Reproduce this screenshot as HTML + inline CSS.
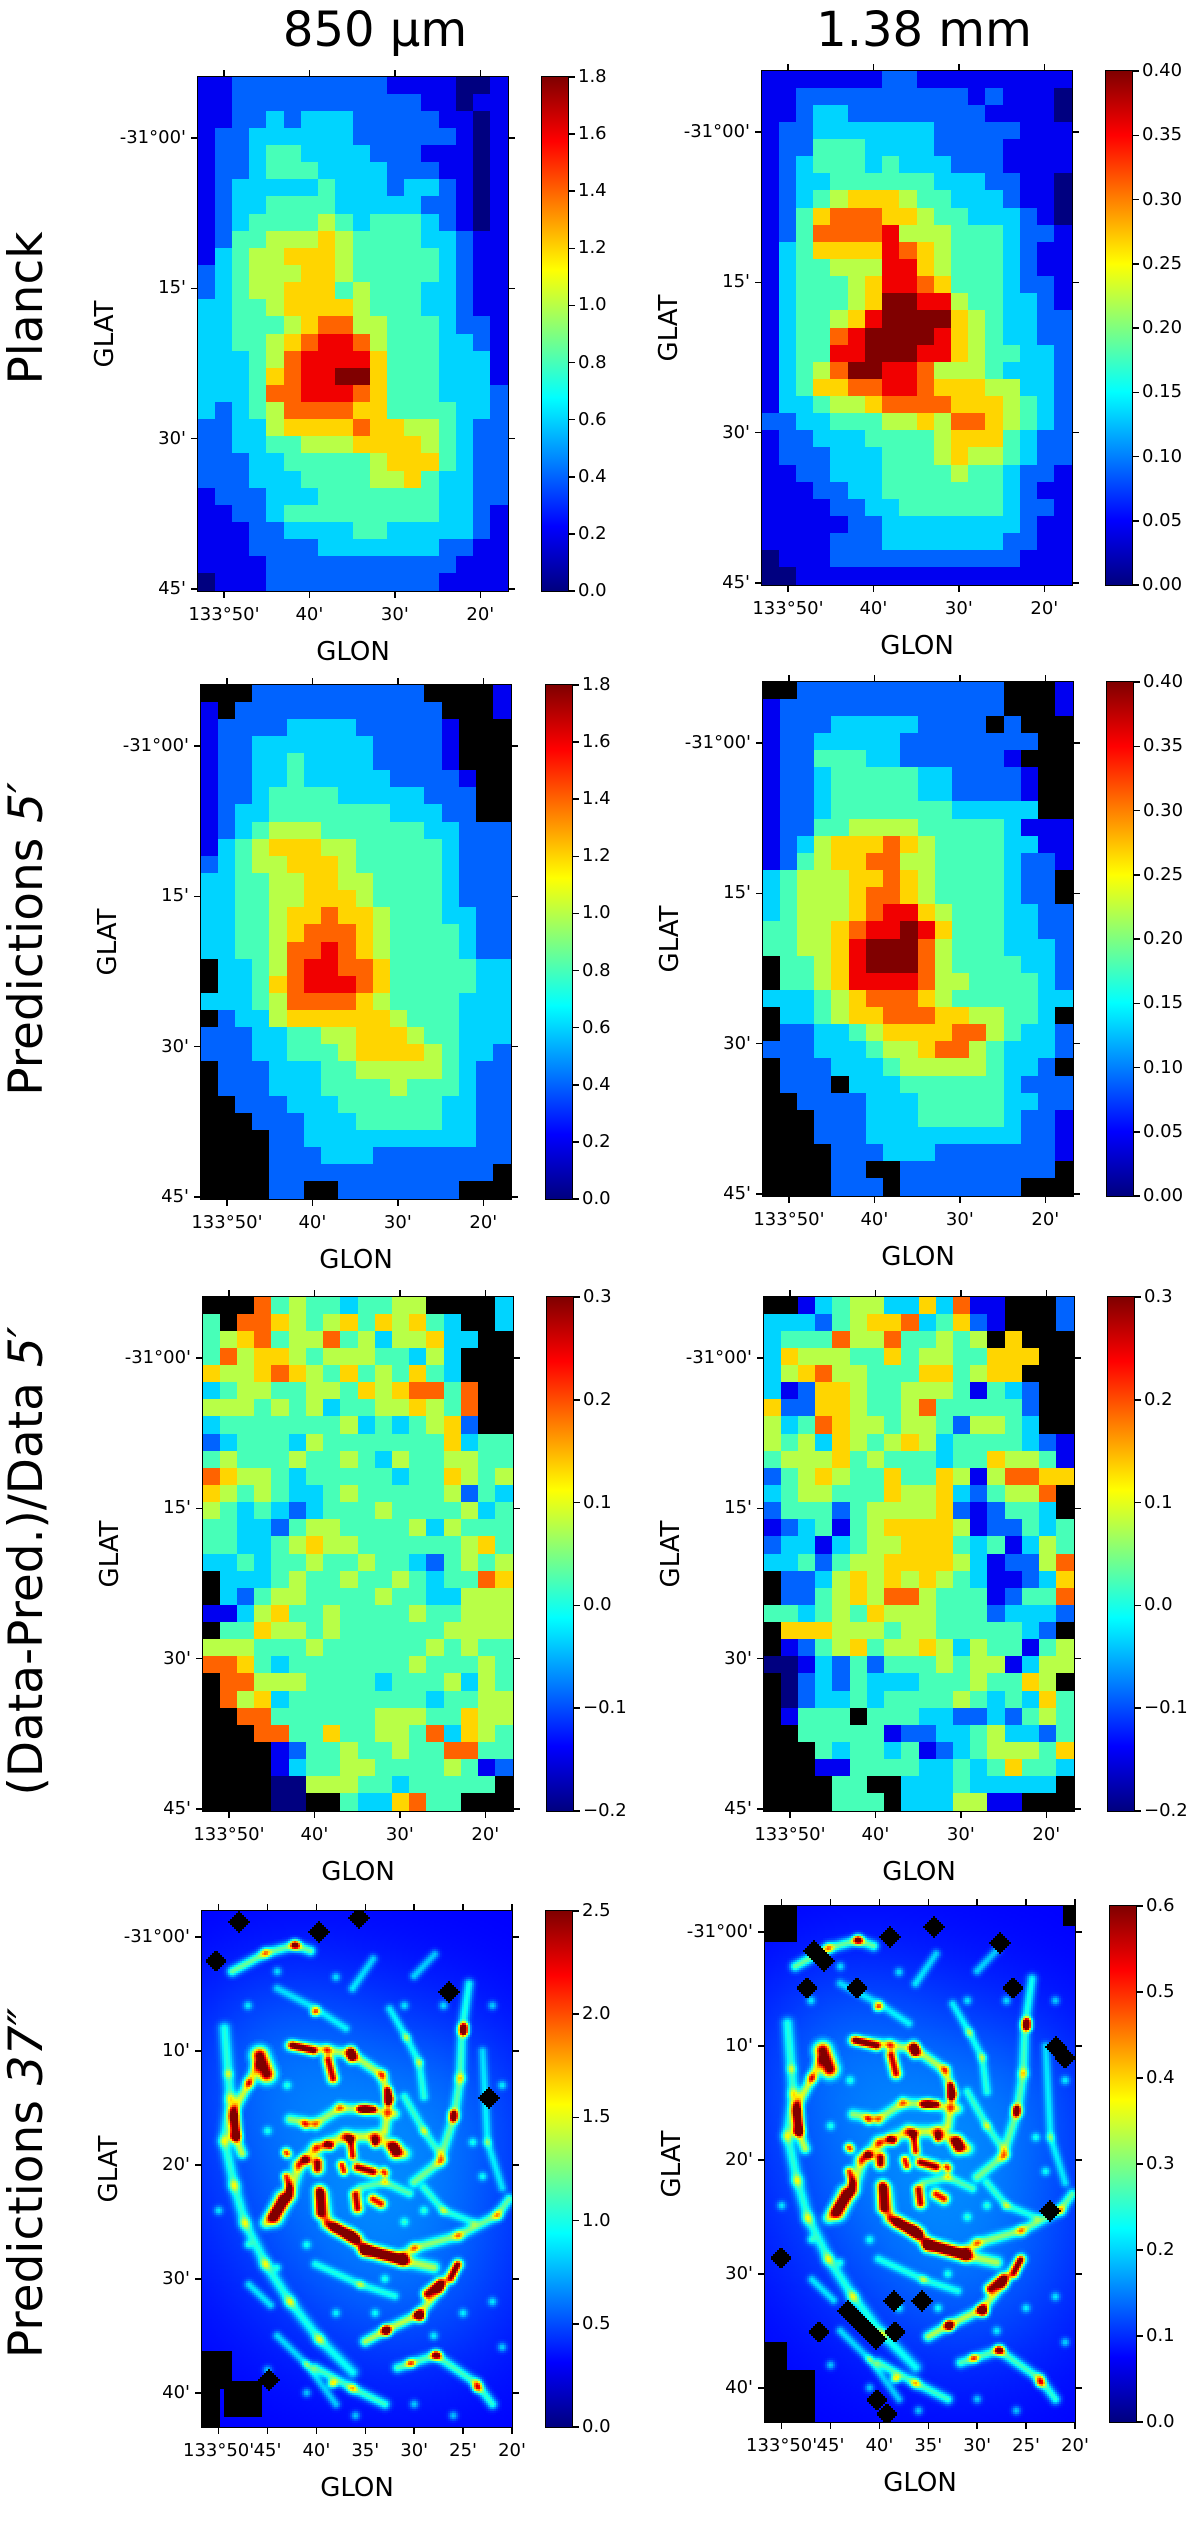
<!DOCTYPE html>
<html><head><meta charset="utf-8">
<style>
body{margin:0;background:#fff;width:1200px;height:2502px;position:relative;overflow:hidden;font-family:"DejaVu Sans","Liberation Sans",sans-serif;color:#000}
.abs{position:absolute}
.frame{position:absolute;border:1.5px solid #000;box-sizing:border-box;pointer-events:none}
.tk{position:absolute;background:#000}
.lbl{position:absolute;font-size:18px;white-space:nowrap;line-height:18px}
.ax{position:absolute;font-size:26px;white-space:nowrap;line-height:30px;text-align:center}
.rt{position:absolute;font-size:47px;white-space:nowrap;line-height:56px;text-align:center;width:700px;height:56px;transform:rotate(-90deg)}
canvas{position:absolute;image-rendering:pixelated}
</style></head>
<body>
<div class="abs" style="left:255px;top:6px;width:240px;text-align:center;font-size:48px;line-height:48px">850 μm</div>
<div class="abs" style="left:794px;top:6px;width:260px;text-align:center;font-size:48px;line-height:48px">1.38 mm</div>
<div class="rt" style="left:-323px;top:280px">Planck</div>
<div class="rt" style="left:-323px;top:911px">Predictions <i>5′</i></div>
<div class="rt" style="left:-323px;top:1533px">(Data-Pred.)/Data <i>5′</i></div>
<div class="rt" style="left:-323px;top:2155px">Predictions <i>37″</i></div>
<div id="root"></div>
<script>
// ---------- DATA ----------
const planck850Rows = [
"112222222221111001","112222222222211011","112232333222221101","122333333222222101",
"122344333322211101","122344433332221101","123333343332332101","123344443333322101",
"123444454344432101","124455565444433211","134556665444443211","234555665444443211",
"234556664544433211","334456666544433211","334445677554443221","334456788754443321",
"333457888864443331","333467889964443331","333477888764443332","323457777664444332",
"223356666766554322","223344555666654322","222334444456664322","222333444455643322",
"122233344444443322","112234444444443321","111223333443333321","111222233333332211",
"111122222222222111","011122222222221111"];
const planck138Rows = [
"111111122111111111","112222222222121110","112332222222211110","122333333322222111",
"122444333322221111","123444343332221111","123344444433322110","123456665443332110",
"124677766544333210","124777785554443221","134666687654443211","134455588654443211",
"134445688764443221","134445699885443321","134456899996543322","134478999986543322",
"134488999886544332","134579988755543332","134667788766655332","133455677776665432",
"223344455657765432","122333444456664322","122233344456554322","112233344445443221",
"111223344444443211","111122334444443221","111112233333333211","111122233333332211",
"011122222222222111","001111111111111111"];
const pred850Rows = [
"xxx2222222222xxxx1","1x222222222222xxx1","122223333222221xxx","122333333322221xxx",
"122334333322221xxx","1223343333322221xx","1223444433333222xx","1233444444433322xx",
"123455544444433222","134566655444443222","234556665444443222","334455665544443222",
"334455666544443222","334456676654443322","334456777654444322","334457787654444322",
"x33457887764444433","x33467888764444433","333457777654444333","x23356666665444333",
"222334455666544333","222334445666654332","x22233344555554322","x22233344445444322",
"xx2223334444443322","xxx222333444443322","xxxx22333333333322","xxxx22233322222222",
"xxxx2222222222222x","xxxx22xx2222222xxx"];
const pred138Rows = [
"xx222222222222xxx1","12222222222222xxx1","1222333332222x2xxx","1223333322222222xx",
"122444332222221xxx","1223444443322221xx","1223444443322221xx","1223444444433333xx",
"122445555444443111","123566676544443311","124566775544443221","34555667654444322x",
"34555677654444322x","345556788654443322","445567889864443322","445568999754443332",
"x44568999754444332","x44568888755444432","333456777654444433","x3345667776655443x",
"x22334566667754332","222333455677543332","x2223334555554332x","x222x3334444443222",
"xx2222333444443322","xxx222333444443221","xxx222333333333221","xxxx22233322222221",
"xxxx22xx222222222x","xxxx222x2222222xxx"];
const resid850Rows = [
"xxx7454434455xxxx3","4x7765456465643xx3","4567455745355633xx","475665455544353xxx",
"655676546454643xxx","3455445546567747xx","5554545344556547xx","3444444453434562xx",
"234443544444446344","454445445435445544","765543444443446545","654543345444445243",
"543432344454444534","443324554444535444","443345655444444564","334344544544324545",
"x33345445445434476","x32455444454433555","113564454444544555","x44655454444445555",
"555444544444454544","776434444444544454","x77555444434445354","x75634444444434455",
"xx7744444455544655","xxx774464455473654","xxxx12445445447744","xxxx13445544445412",
"xxxx0055544344444x","xxxx00xx4336744xxx"];
const resid138Rows = [
"xx134553363711xxx2","33324566734621xxx2","3444755744545x6xxx","3655544645544666xx",
"356755444664566xxx","3126654455541432xx","6226654457444442xx","5347655455425543xx",
"545365456534444321","455564544434465541","245654464465157766","34554446556324557x",
"24442455556212443x","123414566665122434","233134556664341354","334245566665312257",
"x22356565654311236","x22456577544412447","443454655544423332","x6665554554444432x",
"x12456455653544145","001324244454551355","x0232433344454465x","x02334344445434364",
"x1444x444332232454","xx4444412233453324","xxx434434123455546","xxx114444334346443",
"xxxx44xx333433333x","xxxx444x3335511xxx"];

// 37" prediction features (850 µm units); 1.38 mm map uses ratio below
const ratio138 = 0.24;
const bgBase = 0.3;
const bgLon = [36, 30, 44, 26];
const bgLat = [20, 30, 10, 14];
const bgAmp = [0.28, 0.12, 0.12, 0.08];
const bgSig = [11, 8, 7, 6];
const filamentPaths = [
 [[48.6,3.0],[45.2,1.4],[42.2,0.7],[40.6,1.2]],
 [[49.4,8],[48.8,14.2],[49.4,17.9],[48.4,21.8],[47.3,25.1],[45.2,28.7],[42.7,32],[39.7,35.3],[36.3,38.2]],
 [[46.1,11.3],[46.9,12.8],[48.4,15.2],[48.3,17.5],[47.6,19]],
 [[42.7,9.5],[38.9,9.9],[36.3,10.3],[33.3,12.1],[32.5,14.2],[33,17]],
 [[24.4,4.1],[25.1,8.1],[25.3,12.4],[25.9,15.7],[27.4,19.7],[30,21.5]],
 [[31,27.8],[30,27.3],[25.5,26.2],[21.5,24.4],[20.3,23]],
 [[25.5,28.7],[27.4,30.9],[29.5,33.1],[32.9,34.5],[35,35.5]],
 [[31.7,37.8],[27.8,36.7],[23.6,39.2],[22,41]],
 [[40.1,37.8],[36.3,39.6],[33,41]],
 [[42.7,16],[40.1,16.4],[37.6,15],[35,15.1],[32,15.5]],
 [[45.2,25.1],[42.7,22.6],[41.8,20],[40,18.5],[37,17.5],[34,17.5],[31,19]],
 [[39.3,22.6],[38.9,25.1],[36.5,26.2],[35,27.5],[31,28.4],[28,29]],
 [[46.9,30.5],[44.7,32.3]],
 [[40.1,28.7],[35.5,30.5],[32,31.5]],
 [[32.5,6.3],[30.8,8.8],[29.5,11],[29,14]],
 [[36.3,4.5],[34.2,1.9]],
 [[30,3.4],[27.9,1.5]],
 [[23,10],[22.5,18],[21,22]],
 [[44,4.5],[40,6.3],[37,8]],
 [[29,22],[27,24],[24,25]],
 [[44,35],[41,37.5],[38,41]],
 [[31,14],[29,17],[27,19.5]],
 [[35.5,22],[33,21.5],[30.5,22.5]]
];
const filamentAmps = [0.8,0.55,0.9,0.8,0.6,0.7,0.9,0.7,0.7,0.7,0.8,0.8,0.45,0.45,0.45,0.45,0.45,0.4,0.4,0.45,0.45,0.45,0.5];
const filamentWidths = [0.35,0.4,0.35,0.35,0.35,0.35,0.35,0.35,0.35,0.35,0.4,0.4,0.3,0.3,0.3,0.3,0.3,0.3,0.3,0.3,0.3,0.3,0.3];
const clumps = [
 [45.8,10.4,45.1,12.0,2.2,.55],[48.4,15.8,48.2,17.4,1.8,.35],[42.4,9.5,40.3,10.0,1.6,.3],
 [38.8,10.8,38.3,12.4,1.8,.35],[36.5,10.0,36.4,10.6,1.6,.35],[35.5,15.1,34.2,15.1,1.6,.28],
 [32.7,13.5,32.7,14.4,1.6,.28],[38.9,18.2,38.6,18.3,1.6,.3],[36.5,17.8,36.3,19.2,1.7,.3],
 [34.0,18.0,34.0,18.1,1.6,.3],[32.1,18.4,31.9,18.9,2.0,.42],[39.9,19.8,39.9,20.3,2.0,.38],
 [37.4,20.0,37.2,20.5,1.6,.3],[35.8,20.2,34.2,20.6,1.9,.35],[33.1,20.6,33.0,20.7,1.5,.3],
 [43.1,18.9,43.0,19.0,1.5,.3],[41.2,19.5,41.0,19.6,1.5,.3],[43.1,21.0,42.8,22.0,1.5,.3],
 [43.4,23.0,44.3,24.6,2.0,.5],[39.7,22.3,39.6,24.2,2.0,.38],[36.0,22.6,35.8,23.8,1.8,.35],
 [34.2,23.0,33.4,23.4,1.6,.35],[38.1,25.5,36.0,26.5,2.0,.4],[35.0,27.4,31.3,28.3,2.2,.4],
 [28.7,31.3,27.4,30.4,1.9,.35],[26.2,30.0,25.6,28.8,1.3,.3],[29.5,33.2,29.4,33.3,1.7,.35],
 [32.9,34.5,32.8,34.6,1.4,.3],[24.9,7.9,24.9,8.3,1.9,.3],[26.0,15.5,26.0,15.9,1.4,.3],
 [42.2,0.7,42.1,0.7,1.0,.3],[30.4,37.4,30.3,37.4,1.0,.3],[27.8,36.7,27.6,36.7,1.2,.3],
 [23.6,39.6,23.5,39.6,1.0,.3],[38.4,39.2,38.3,39.2,1.0,.3],[40.2,6.6,40.1,6.6,1.1,.28],
 [41.2,16.4,41.1,16.5,1.0,.3]
];
const dotLon = [47,44,38,31,27,22,21,23,45,47,44,41,33,38,34,28,25,22,21,45,41,36,30,26,50,49,43,29,31,24];
const dotLat = [6,3,3.5,6,6,6,13,21,17,27,29,27,30,33,33,35,33,32,36,38,40,42,41,42,24,12,13,24,25,18];
const maskDiamondsL = [[39.7,-0.4],[35.7,-1.7],[50.3,2.1],[26.4,4.8],[22.3,14.1],[44.8,38.9],[47.9,-1.3]];
const maskRectsL = [[51.7,36.3,48.6,39.6],[49.4,38.9,45.6,42.1],[51.7,39.6,49.8,43]];
const maskDiamondsR = [[46.7,1.6],[45.7,2.5],[38.9,0.4],[34.4,-0.4],[27.7,0.9],[47.5,4.9],[42.2,4.9],[26.4,4.9],[21.9,10.1],[21.0,11],[22.5,24.5],[50,28.6],[38.5,32.4],[35.7,32.4],[46.1,35.1],[43.2,33.2],[42.3,34.0],[41.3,34.9],[40.4,35.7],[38.5,35.1],[40.2,41.1],[39.3,42.3]];
const maskRectsR = [[51.7,-2.3,48.5,0.8],[21.3,-2.3,20,-0.5],[51.7,38.5,46.5,43],[51.7,36,49.5,38.5]];

const gridXTicks = [[50,"133°50'"],[40,"40'"],[30,"30'"],[20,"20'"]];
const gridYTicks = [[0,"-31°00'"],[15,"15'"],[30,"30'"],[45,"45'"]];
const fineXTicks = [[50,"133°50'"],[45,"45'"],[40,"40'"],[35,"35'"],[30,"30'"],[25,"25'"],[20,"20'"]];
const fineYTicks = [[0,"-31°00'"],[10,"10'"],[20,"20'"],[30,"30'"],[40,"40'"]];
const cb850 = ["0.0","0.2","0.4","0.6","0.8","1.0","1.2","1.4","1.6","1.8"];
const cb138 = ["0.00","0.05","0.10","0.15","0.20","0.25","0.30","0.35","0.40"];
const cbRes = ["−0.2","−0.1","0.0","0.1","0.2","0.3"];
const cb37a = ["0.0","0.5","1.0","1.5","2.0","2.5"];
const cb37b = ["0.0","0.1","0.2","0.3","0.4","0.5","0.6"];

// ---------- RENDER ----------
function clamp(v){return v<0?0:v>1?1:v;}
function jet(t){
  t=clamp(t);
  const r=clamp(Math.min(4*t-1.5,-4*t+4.5)), g=clamp(Math.min(4*t-0.5,-4*t+3.5)), b=clamp(Math.min(4*t+0.5,-4*t+2.5));
  return [Math.round(r*255),Math.round(g*255),Math.round(b*255)];
}
const root=document.getElementById('root');
function el(cls,style,text){const d=document.createElement('div');if(cls)d.className=cls;d.style.cssText=style;if(text!==undefined)d.textContent=text;root.appendChild(d);return d;}

function panel(p){
  const xOf=lon=>(p.lonL-lon)/(p.lonL-p.lonR)*p.w;
  const yOf=lat=>(lat-p.latT)/(p.latB-p.latT)*p.h;
  const cv=document.createElement('canvas');
  
  
  cv.style.left=p.x+'px';cv.style.top=p.y+'px';cv.style.width=p.w+'px';cv.style.height=p.h+'px';
  root.appendChild(cv);
  if(p.rows){
    cv.width=p.w;cv.height=p.h;
    const ctx=cv.getContext('2d');
    const nC=18,nR=p.rows.length;
    const lonStep=(p.lonL-p.lonR)/nC, latStep=(p.latB-p.latT)/nR;
    for(let r=0;r<nR;r++){
      let s=(p.rows[r]+"444444444444444444").slice(0,nC);
      for(let c=0;c<nC;c++){
        const ch=s[c];
        const lon0=p.lonL-c*lonStep, lat0=p.latT+r*latStep;
        const x0=Math.floor(xOf(lon0)), x1=Math.ceil(xOf(lon0-lonStep));
        const y0=Math.floor(yOf(lat0)), y1=Math.ceil(yOf(lat0+latStep));
        if(ch==='x'){ctx.fillStyle='#000';}
        else{
          const v=p.vmin+(+ch)/9*(p.vmax-p.vmin);
          const col=jet((v-p.vmin)/(p.vmax-p.vmin));
          ctx.fillStyle='rgb('+col+')';
        }
        ctx.fillRect(x0,y0,x1-x0,y1-y0);
      }
    }
  } else {
    const S=2, W=Math.ceil(p.w/S), H=Math.ceil(p.h/S);
    cv.width=W;cv.height=H;
    const ctx=cv.getContext('2d');
    const img=ctx.createImageData(W,H);
    const segs=[];
    filamentPaths.forEach((path,i)=>{for(let k=0;k<path.length-1;k++)segs.push([path[k][0],path[k][1],path[k+1][0],path[k+1][1],filamentAmps[i],filamentWidths[i]]);});
    clumps.forEach(c=>segs.push(c));
    dotLon.forEach((l,i)=>segs.push([l,dotLat[i],l,dotLat[i],0.45,0.3]));
    const S2=segs.map(s=>[xOf(s[0]),yOf(s[1]),xOf(s[2]),yOf(s[3]),s[4],s[5]*10]);
    const bgs=bgLon.map((l,i)=>[xOf(l),yOf(bgLat[i]),bgAmp[i],bgSig[i]*10.5]);
    const dm=(p.maskD||[]).map(d=>[xOf(d[0]),yOf(d[1])]);
    const rm=(p.maskR||[]).map(r=>[xOf(r[0]),yOf(r[1]),xOf(r[2]),yOf(r[3])]);
    for(let j=0;j<H;j++)for(let i=0;i<W;i++){
      const X=i*S+1,Y=j*S+1;
      let masked=false;
      for(const d of dm){if(Math.abs(X-d[0])+Math.abs(Y-d[1])<11){masked=true;break;}}
      if(!masked)for(const r of rm){if(X>=r[0]&&X<=r[2]&&Y>=r[1]&&Y<=r[3]){masked=true;break;}}
      const o=(j*W+i)*4;
      if(masked){img.data[o]=0;img.data[o+1]=0;img.data[o+2]=0;img.data[o+3]=255;continue;}
      let v=bgBase;
      for(const b of bgs){const dx=X-b[0],dy=Y-b[1];v+=b[2]*Math.exp(-(dx*dx+dy*dy)/(2*b[3]*b[3]));}
      for(const s of S2){
        const vx=s[2]-s[0],vy=s[3]-s[1];const L=vx*vx+vy*vy;
        let t=L>0?((X-s[0])*vx+(Y-s[1])*vy)/L:0;t=t<0?0:t>1?1:t;
        const dx=X-(s[0]+t*vx),dy=Y-(s[1]+t*vy);const d2=dx*dx+dy*dy;
        if(d2<9*s[5]*s[5])v+=s[4]*Math.exp(-d2/(2*s[5]*s[5]));
      }
      v*=p.scale;
      const col=jet((v-p.vmin)/(p.vmax-p.vmin));
      img.data[o]=col[0];img.data[o+1]=col[1];img.data[o+2]=col[2];img.data[o+3]=255;
    }
    ctx.putImageData(img,0,0);
  }
  const fr=el('frame','left:'+(p.x-1)+'px;top:'+(p.y-1)+'px;width:'+(p.w+2)+'px;height:'+(p.h+2)+'px');
  
  
  p.xt.forEach(t=>{
    const xx=p.x+xOf(t[0]);
    const a=el('tk','left:'+(xx-0.75)+'px;top:'+(p.y-7)+'px;width:1.5px;height:7px');
    
    
    const b=el('tk','left:'+(xx-0.75)+'px;top:'+(p.y+p.h)+'px;width:1.5px;height:7px');
    
    
    const l=el('lbl','left:'+(xx-70)+'px;top:'+(p.y+p.h+15)+'px;width:140px;text-align:center',t[1]);
    
    
  });
  p.yt.forEach(t=>{
    const yy=p.y+yOf(t[0]);
    const a=el('tk','left:'+(p.x-7)+'px;top:'+(yy-0.75)+'px;width:7px;height:1.5px');
    
    
    const b=el('tk','left:'+(p.x+p.w)+'px;top:'+(yy-0.75)+'px;width:7px;height:1.5px');
    
    
    const l=el('lbl','left:'+(p.x-132)+'px;top:'+(yy-9)+'px;width:120px;text-align:right',t[1]);
    
    
  });
  const gx=el('ax','left:'+(p.x+p.w/2-60)+'px;top:'+(p.y+p.h+46)+'px;width:120px','GLON');
  
  
  const gy=el('ax','left:'+(p.x-93-60)+'px;top:'+(p.y+p.h/2-15)+'px;width:120px;transform:rotate(-90deg)','GLAT');
  
  
  const cb=el('frame','left:'+p.cbx+'px;top:'+(p.y-1)+'px;width:28px;height:'+(p.h+2)+'px;background:linear-gradient(to top,#00007f 0%,#0000ff 12.5%,#00ffff 37.5%,#ffff00 62.5%,#ff0000 87.5%,#7f0000 100%)');
  
  
  const n=p.cb.length;
  p.cb.forEach((lab,i)=>{
    const yy=p.y+p.h-i/(n-1)*p.h;
    const a=el('tk','left:'+(p.cbx+28)+'px;top:'+(yy-0.75)+'px;width:6px;height:1.5px');
    
    
    const l=el('lbl','left:'+(p.cbx+37)+'px;top:'+(yy-9)+'px',lab);
    
    
  });
}
const G={lonL:53.04,lonR:16.76,latT:-6.1,latB:45.2,w:310,h:514,xt:gridXTicks,yt:gridYTicks};
const F={lonL:51.7,lonR:20,latT:-2.3,latB:43,w:310,h:516,xt:fineXTicks,yt:fineYTicks};
panel(Object.assign({},G,{name:'planck-850',x:198,y:77,cbx:541,rows:planck850Rows,vmin:0,vmax:1.8,cb:cb850}));
panel(Object.assign({},G,{name:'planck-138',x:762,y:71,cbx:1105,rows:planck138Rows,vmin:0,vmax:0.4,cb:cb138}));
panel(Object.assign({},G,{name:'pred5-850',x:201,y:685,cbx:545,rows:pred850Rows,vmin:0,vmax:1.8,cb:cb850}));
panel(Object.assign({},G,{name:'pred5-138',x:763,y:682,cbx:1106,rows:pred138Rows,vmin:0,vmax:0.4,cb:cb138}));
panel(Object.assign({},G,{name:'resid-850',x:203,y:1297,cbx:546,rows:resid850Rows,vmin:-0.2,vmax:0.3,cb:cbRes}));
panel(Object.assign({},G,{name:'resid-138',x:764,y:1297,cbx:1107,rows:resid138Rows,vmin:-0.2,vmax:0.3,cb:cbRes}));
panel(Object.assign({},F,{name:'pred37-850',x:202,y:1911,cbx:545,vmin:0,vmax:2.5,scale:1,maskD:maskDiamondsL,maskR:maskRectsL,cb:cb37a}));
panel(Object.assign({},F,{name:'pred37-138',x:765,y:1906,cbx:1109,vmin:0,vmax:0.6,scale:ratio138,maskD:maskDiamondsR,maskR:maskRectsR,cb:cb37b}));
</script>
</body></html>
